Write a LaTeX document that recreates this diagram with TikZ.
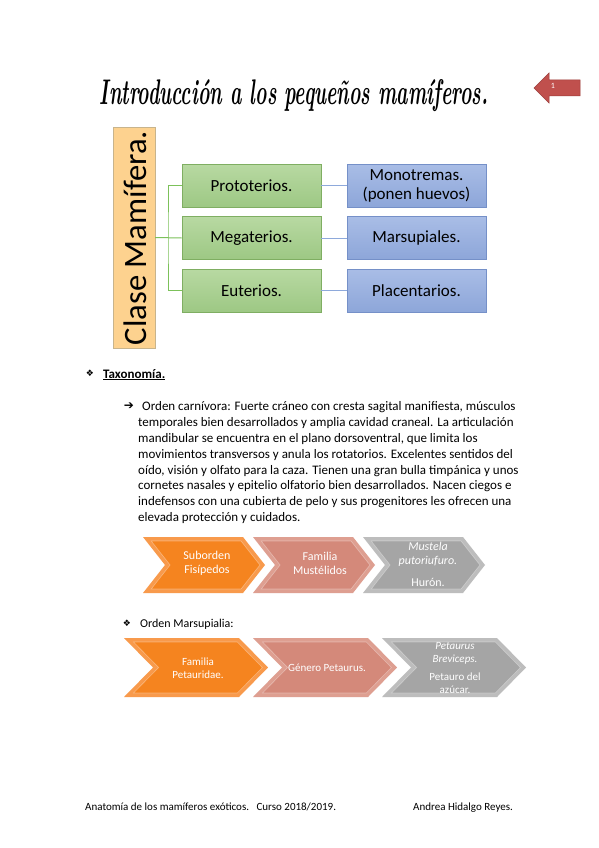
\documentclass[tikz,border=0pt]{standalone}
\usepackage{fontspec}
\newfontfamily\calib{Carlito}
\newfontfamily\djv{DejaVu Sans}
\usetikzlibrary{calc}
\definecolor{redarrow}{HTML}{C0504D}
\definecolor{redarrowd}{HTML}{9B3B38}
\definecolor{clasefill}{HTML}{FDD28F}
\definecolor{claseedge}{HTML}{C8B48C}
\definecolor{greentop}{HTML}{B8D9A2}
\definecolor{greenbot}{HTML}{9DC884}
\definecolor{greenedge}{HTML}{7FAE62}
\definecolor{greenline}{HTML}{7CC15A}
\definecolor{bluetop}{HTML}{A9BDE6}
\definecolor{bluebot}{HTML}{8DA6D9}
\definecolor{blueedge}{HTML}{7590C8}
\definecolor{blueline}{HTML}{8EA9DB}
\definecolor{orgmain}{HTML}{F5841F}
\definecolor{orgbev}{HTML}{F89A4C}
\definecolor{salmain}{HTML}{D4897A}
\definecolor{salbev}{HTML}{DE9F91}
\definecolor{graymain}{HTML}{A5A5A5}
\definecolor{graybev}{HTML}{BDBDBD}
% #1 L, #2 T, #3 W, #4 H, #5 D, #6 main, #7 bevel, #8 c (horizontal inset), #9 m*b
\newcommand\mychev[9]{%
  \fill[#7] (#1,#2) -- ({#1+#3-#5},#2) -- ({#1+#3},{#2+#4/2}) -- ({#1+#3-#5},{#2+#4}) -- (#1,{#2+#4}) -- ({#1+#5},{#2+#4/2}) -- cycle;
  \fill[#6] ({#1+#9+#8},{#2+4}) -- ({#1+#3-#5+#9-#8},{#2+4}) -- ({#1+#3-#8},{#2+#4/2}) -- ({#1+#3-#5+#9-#8},{#2+#4-4}) -- ({#1+#9+#8},{#2+#4-4}) -- ({#1+#5+#8},{#2+#4/2}) -- cycle;
  \draw[white, opacity=0.35, line width=0.6pt] ({#1+#9+#8},{#2+4}) -- ({#1+#3-#5+#9-#8},{#2+4}) -- ({#1+#3-#8},{#2+#4/2}) -- ({#1+#3-#5+#9-#8},{#2+#4-4}) -- ({#1+#9+#8},{#2+#4-4}) -- ({#1+#5+#8},{#2+#4/2}) -- cycle;
}
\tikzset{
  gbox/.style={draw=greenedge, line width=0.6pt, top color=greentop, bottom color=greenbot, minimum width=139pt, minimum height=43pt, inner sep=0pt, font=\calib\fontsize{17}{19}\selectfont, align=center},
  bbox/.style={draw=blueedge, line width=0.6pt, top color=bluetop, bottom color=bluebot, minimum width=139pt, minimum height=43pt, inner sep=0pt, font=\calib\fontsize{17}{19}\selectfont, align=center},
  gline/.style={draw=greenline, line width=1pt},
  bline/.style={draw=blueline, line width=1pt},
  body/.style={anchor=base west, inner sep=0pt, font=\calib\fontsize{13}{15}\selectfont},
  chevtxt/.style={text=white, inner sep=0pt, align=center, font=\calib\fontsize{12}{14}\selectfont},
  foot/.style={anchor=base west, inner sep=0pt, font=\calib\fontsize{11}{13}\selectfont},
}
\begin{document}
\begin{tikzpicture}[x=1pt,y=-1pt]
\useasboundingbox (0,0) rectangle (599,848);
\fill[white] (0,0) rectangle (599,848);

% title
\node[anchor=base, inner sep=0pt] (title) at (294,105) {\resizebox{388pt}{25pt}{\bfseries\itshape Introducción a los pequeños mamíferos.}};

% page arrow
\fill[redarrow, draw=redarrowd, line width=0.5pt] (534,88) -- (549,73) -- (549,80) -- (580,80) -- (580,96) -- (549,96) -- (549,103) -- cycle;
\node[text=white, inner sep=0pt, font=\calib\fontsize{8}{9}\selectfont] (pg) at (553,86) {1};

% Clase box
\node[draw=claseedge, fill=clasefill, minimum width=42pt, minimum height=221pt, inner sep=0pt] (clase) at (134,237.5) {};
\node[rotate=90, inner sep=0pt] (clasetxt) at (135,238) {\resizebox{214pt}{!}{\calib Clase Mamífera.}};

% green
\node[gbox] (p) at (251.5,185.5) {Prototerios.};
\node[gbox] (m) at (251.5,238) {Megaterios.};
\node[gbox] (e) at (251.5,290.5) {Euterios.};
% blue
\node[bbox] (mo) at (416.5,185.5) {Monotremas.\\(ponen huevos)};
\node[bbox] (ma) at (416.5,238) {Marsupiales.};
\node[bbox] (pl) at (416.5,290.5) {Placentarios.};

\coordinate (j) at (168,238);
\draw[gline] (clase.east) -- (m.west);
\draw[gline] (p.west) -| (j) |- (e.west);
\draw[bline] (p.east) -- (mo.west);
\draw[bline] (m.east) -- (ma.west);
\draw[bline] (e.east) -- (pl.west);

% Taxonomia
\node[inner sep=0pt, font=\djv\fontsize{9}{10}\selectfont] (b1) at (90,373) {❖};
\node[anchor=base west, inner sep=0pt, font=\calib\bfseries\fontsize{13}{15}\selectfont] (tax) at (103,378) {\underline{Taxonomía.}};

\node[inner sep=0pt, font=\djv\bfseries\fontsize{12}{13}\selectfont] (b2) at (129,406) {➔};
\node[body] (l1) at (142,410) {Orden carnívora: Fuerte cráneo con cresta sagital manifiesta, músculos};
\node[body] (l2) at (138,426) {temporales bien desarrollados y amplia cavidad craneal. La articulación};
\node[body] (l3) at (138,442) {mandibular se encuentra en el plano dorsoventral, que limita los};
\node[body] (l4) at (138,458) {movimientos transversos y anula los rotatorios. Excelentes sentidos del};
\node[body] (l5) at (138,474) {oído, visión y olfato para la caza. Tienen una gran bulla timpánica y unos};
\node[body] (l6) at (138,489) {cornetes nasales y epitelio olfatorio bien desarrollados. Nacen ciegos e};
\node[body] (l7) at (138,505) {indefensos con una cubierta de pelo y sus progenitores les ofrecen una};
\node[body] (l8) at (138,521) {elevada protección y cuidados.};

% chevrons row 1
\mychev{143}{537}{122}{56}{22}{orgmain}{orgbev}{5.1}{3.1}
\mychev{253}{537}{122}{56}{22}{salmain}{salbev}{5.1}{3.1}
\mychev{363}{537}{122}{56}{22}{graymain}{graybev}{5.1}{3.1}
\node[chevtxt] (c1) at (207,563) {Suborden\\Fisípedos};
\node[chevtxt] (c2) at (320,563) {Familia\\Mustélidos};
\node[chevtxt] (c3a) at (428,554) {\itshape Mustela\\\itshape putoriufuro.};
\node[chevtxt] (c3b) at (428,582) {Hurón.};

% Orden Marsupialia
\node[inner sep=0pt, font=\djv\fontsize{9}{10}\selectfont] (b3) at (127,623) {❖};
\node[anchor=base west, inner sep=0pt, font=\calib\fontsize{12}{14}\selectfont] (om) at (140,627) {Orden Marsupialia:};

% chevrons row 2
\mychev{124}{638}{144}{59}{29}{orgmain}{orgbev}{5.6}{3.9}
\mychev{253}{638}{144}{59}{29}{salmain}{salbev}{5.6}{3.9}
\mychev{382}{638}{144}{59}{29}{graymain}{graybev}{5.6}{3.9}
\node[chevtxt, font=\calib\fontsize{11}{12.5}\selectfont] (d1) at (198,668) {Familia\\Petauridae.};
\node[chevtxt, font=\calib\fontsize{11}{12.5}\selectfont] (d2) at (327,668) {Género Petaurus.};
\node[chevtxt, font=\calib\fontsize{11}{13}\selectfont] (d3a) at (455,653) {\itshape Petaurus\\\itshape Breviceps.};
\node[chevtxt, font=\calib\fontsize{11}{12.5}\selectfont] (d3b) at (455,683) {Petauro del\\azúcar.};

% footer
\node[foot] (f1) at (85,810) {Anatomía de los mamíferos exóticos.\ \ \ Curso 2018/2019.};
\node[foot] (f2) at (413,810) {Andrea Hidalgo Reyes.};
\end{tikzpicture}
\end{document}
